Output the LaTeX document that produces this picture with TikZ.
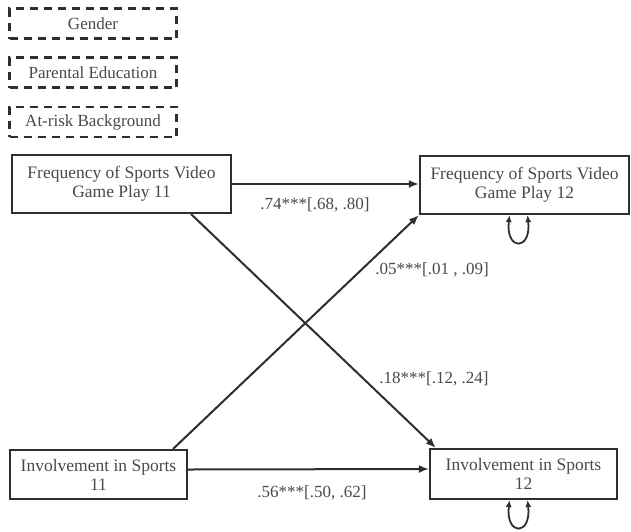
\documentclass[tikz,border=0pt]{standalone}
\usepackage{fontspec}
\setmainfont{Liberation Serif}
\usepackage{xcolor}
\usetikzlibrary{arrows.meta, positioning, calc}

\definecolor{txtgray}{HTML}{4A4A4A}
\definecolor{linegray}{HTML}{2E2E2E}

\tikzset{
  var/.style={draw=linegray, line width=2.2pt, align=center, text=txtgray,
    font=\fontsize{17.5}{19}\selectfont, inner sep=0pt},
  covar/.style={draw=linegray, line width=2.2pt, dash pattern=on 8pt off 6pt,
    text=txtgray, font=\fontsize{17}{19}\selectfont,
    minimum width=167pt, minimum height=30pt, inner sep=0pt},
  path/.style={draw=linegray, line width=2pt, -{Latex[length=10pt,width=8pt]}},
  loop/.style={draw=linegray, line width=1.8pt,
    {Latex[length=7pt,width=6pt]}-{Latex[length=7pt,width=6pt]}},
  coef/.style={text=txtgray, font=\fontsize{17}{19}\selectfont, inner sep=0pt}
}

\begin{document}
\begin{tikzpicture}[x=1pt,y=-1pt]
    \useasboundingbox[fill=white] (0,0) rectangle (631,531);

    % Covariates
    \node[covar] (gender) at (93,23.5) {Gender};
    \node[covar] (parent) at (93,72.5) {Parental Education};
    \node[covar] (atrisk) at (93,122) {At-risk Background};

    % Wave 11
    \node[var, minimum width=219pt, minimum height=58pt] (fg11) at (121.5,184)
      {Frequency of Sports Video\\Game Play 11};
    \node[var, minimum width=177pt, minimum height=49pt] (is11) at (98.5,474.5)
      {Involvement in Sports\\11};

    % Wave 12
    \node[var, minimum width=209pt, minimum height=58pt] (fg12) at (524.5,185)
      {Frequency of Sports Video\\Game Play 12};
    \node[var, minimum width=187pt, minimum height=50pt] (is12) at (523.5,474)
      {Involvement in Sports\\12};

    % Paths
    \draw[path] (fg11.east) -- (fg12.west |- fg11.east);
    \draw[path] ([yshift=5pt]is11.east) -- ([yshift=5pt]is12.west);
    \draw[path] ([xshift=-15pt]is11.north east) -- (fg12.south west);
    \draw[path] ([xshift=-41pt]fg11.south east) -- ([xshift=7pt]is12.north west);

    % Coefficients
    \node[coef] (c74) at (315,205) {.74***[.68, .80]};
    \node[coef] (c05) at (432,270) {.05***[.01 , .09]};
    \node[coef] (c18) at (434,379) {.18***[.12, .24]};
    \node[coef] (c56) at (312,493) {.56***[.50, .62]};

    % Residual variances
    \draw[loop] ([xshift=-15pt]fg12.south) .. controls +(-4,36) and +(4,36) .. ([xshift=3pt]fg12.south);
    \draw[loop] ([xshift=-14pt]is12.south) .. controls +(-4,36) and +(4,36) .. ([xshift=4pt]is12.south);
  \end{tikzpicture}
\end{document}
